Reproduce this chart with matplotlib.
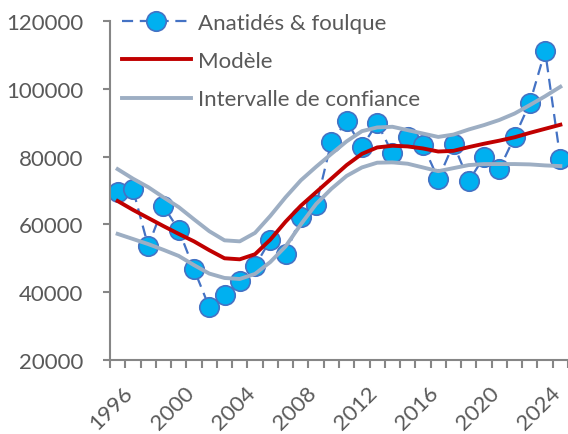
import numpy as np
import matplotlib.pyplot as plt
import matplotlib.transforms as mtransforms

# valeurs
annees = list(range(1996, 2026))
comptages = [69500, 70400, 53600, 65400, 58400, 46800, 35600, 39200, 43300, 47700,
             55400, 51300, 62200, 65700, 84300, 90500, 82800, 89900, 81000, 85800,
             83400, 73400, 83700, 72800, 79900, 76300, 85800, 95800, 111200, 79300]
modele = [66900, 64300, 61900, 59500, 57200, 55000, 52400, 50000, 49700, 51200,
          55500, 60800, 65500, 69500, 73500, 77500, 80800, 82700, 83200, 83000,
          82400, 81500, 81700, 82800, 83800, 84700, 85700, 87000, 88200, 89400]
ic_haut = [76300, 73500, 71000, 68000, 65100, 61500, 58000, 55300, 55000, 57500,
           62500, 68000, 73000, 77000, 80800, 84500, 87500, 88600, 88800, 87800,
           86800, 85800, 86500, 88000, 89300, 90800, 92700, 95200, 97800, 100600]
ic_bas = [57200, 55700, 54200, 52500, 50700, 48000, 45500, 44200, 43900, 45400,
          48900, 53500, 60000, 66000, 70500, 74300, 76800, 78200, 78300, 77900,
          76800, 75700, 76600, 77500, 77800, 77800, 77800, 77700, 77400, 77200]
annees_affichees = [1996, 2000, 2004, 2008, 2012, 2016, 2020, 2024]

plt.rcParams['font.family'] = ['Lato', 'DejaVu Sans']
gris_texte = '#595959'
gris_axe = '#868686'
gris_ic = '#9DAEC3'

fig = plt.figure(figsize=(5.68, 4.35), dpi=100)
ax = fig.add_axes([110 / 568, 1 - 361 / 435, 1 - 110 / 568, (361 - 22) / 435])

x = np.arange(len(annees))
ax.plot(x, comptages, color='#4472C4', lw=1.6, dashes=(5, 3),
        marker='o', markersize=14, markerfacecolor='#00B0F0',
        markeredgecolor='#4472C4', markeredgewidth=1.2,
        label='Anatidés & foulque', zorder=2)
ax.plot(x, modele, color='#C00000', lw=2.8, label='Modèle', zorder=3)
ax.plot(x, ic_haut, color=gris_ic, lw=2.8, label='Intervalle de confiance', zorder=4)
ax.plot(x, ic_bas, color=gris_ic, lw=2.8, zorder=4)

ax.set_xlim(-0.5, len(annees) - 0.5)
ax.set_ylim(20000, 120000)
ax.set_yticks(range(20000, 120001, 20000))

# graduations entre les categories, etiquettes tous les 4 ans
ax.set_xticks(np.arange(-0.5, len(annees), 1.0))
ax.set_xticklabels([])
pos = [annees.index(a) for a in annees_affichees]
ax.set_xticks(pos, minor=True)
ax.set_xticklabels([str(a) for a in annees_affichees], minor=True,
                   rotation=45, ha='right', rotation_mode='anchor')
ax.tick_params(axis='x', which='minor', length=0, pad=16, labelsize=16,
               labelcolor=gris_texte)
ax.tick_params(axis='x', which='major', length=6, width=1.5, color=gris_axe)
ax.tick_params(axis='y', length=5, width=1.5, color=gris_axe, pad=14,
               labelsize=16, labelcolor=gris_texte)
decalage = mtransforms.ScaledTranslation(5 / 100, 0, fig.dpi_scale_trans)
for lab in ax.get_xticklabels(minor=True):
    lab.set_transform(lab.get_transform() + decalage)

for s in ['top', 'right']:
    ax.spines[s].set_visible(False)
for s in ['left', 'bottom']:
    ax.spines[s].set_color(gris_axe)
    ax.spines[s].set_linewidth(1.5)

leg = ax.legend(loc='upper left', bbox_to_anchor=(122 / 568, 1 - 14 / 435),
                bbox_transform=fig.transFigure, frameon=False, fontsize=16,
                handlelength=3.1, handletextpad=0.3, labelspacing=0.82,
                borderpad=0, borderaxespad=0, numpoints=1)
for t in leg.get_texts():
    t.set_color(gris_texte)

fig.savefig('out.png', dpi=100)
